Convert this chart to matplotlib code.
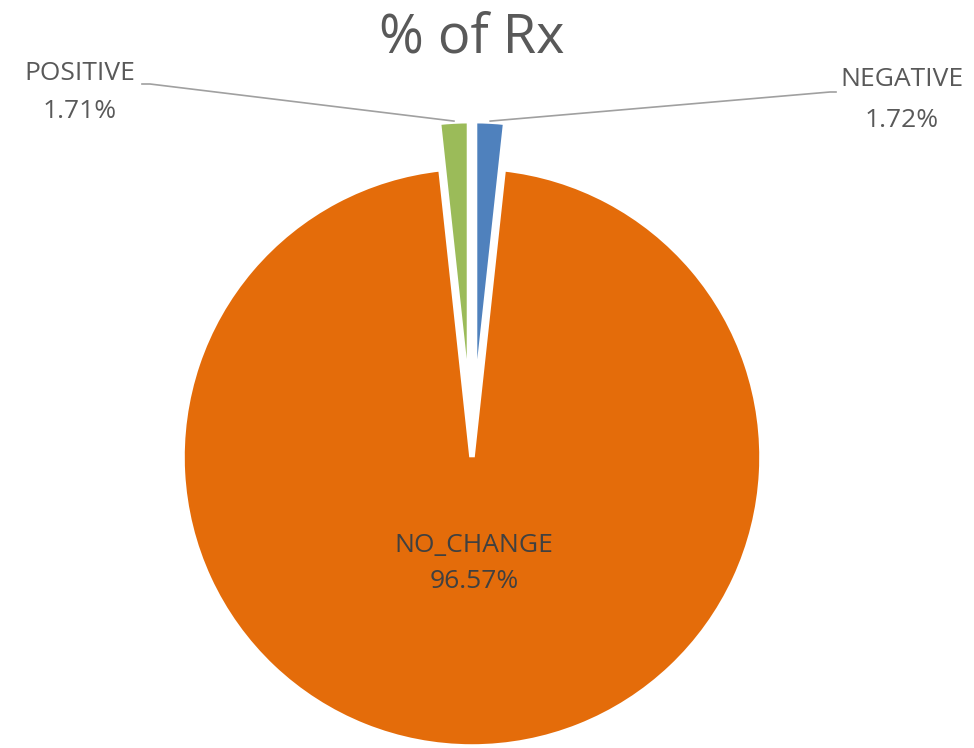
import numpy as np
import matplotlib.pyplot as plt

# data
labels = ["NEGATIVE", "NO_CHANGE", "POSITIVE"]
shares = [1.72, 96.57, 1.71]
colors = ["#4F81BD", "#E46C0A", "#9BBB59"]
explode = [0.16, 0.0, 0.16]

W, H = 974, 748
R = 290            # pie radius in pixels
cx, cy = 472, 457  # pie centre (pixels from top-left)

plt.rcParams['font.family'] = ['Open Sans', 'DejaVu Sans']

fig = plt.figure(figsize=(W / 100, H / 100), dpi=100)
ax = fig.add_axes([0, 0, 1, 1])

wedges, _ = ax.pie(shares, colors=colors, explode=explode, startangle=90,
                   counterclock=False, radius=1,
                   wedgeprops=dict(edgecolor='white', linewidth=4))

# pie() resets the limits, so set them afterwards
ax.set_xlim(-cx / R, (W - cx) / R)
ax.set_ylim(-(H - cy) / R, cy / R)
ax.set_aspect('equal')
ax.axis('off')


def px(x, y):
    # pixel position (from top-left) -> data coords
    return (x - cx) / R, (cy - y) / R


def arc_mid(w):
    a = np.deg2rad((w.theta1 + w.theta2) / 2)
    return w.center[0] + w.r * np.cos(a), w.center[1] + w.r * np.sin(a)


grey = '#595959'
line_kw = dict(color='#a0a0a0', lw=1.2)
fs = 19

# NEGATIVE label (right)
neg = wedges[0]
ex, ey = arc_mid(neg)
x1, y1 = px(830, 92)
x2, y2 = px(836, 92)
ax.plot([ex, x1, x2], [ey, y1, y2], **line_kw)
ax.text(*px(902, 80), f"{labels[0]}", ha='center', va='center', fontsize=fs, color=grey)
ax.text(*px(902, 121), f"{shares[0]:.2f}%", ha='center', va='center', fontsize=fs, color=grey)

# POSITIVE label (left)
pos = wedges[2]
ex, ey = arc_mid(pos)
x1, y1 = px(150, 84)
x2, y2 = px(142, 84)
ax.plot([ex, x1, x2], [ey, y1, y2], **line_kw)
ax.text(*px(80, 74), f"{labels[2]}", ha='center', va='center', fontsize=fs, color=grey)
ax.text(*px(80, 111), f"{shares[2]:.2f}%", ha='center', va='center', fontsize=fs, color=grey)

# NO_CHANGE label (inside)
ax.text(*px(474, 545), labels[1], ha='center', va='center', fontsize=fs, color='#404040')
ax.text(*px(474, 582), f"{shares[1]:.2f}%", ha='center', va='center', fontsize=fs, color='#404040')

fig.text(472 / W, 1 - 38 / H, "% of Rx", ha='center', va='center', fontsize=39, color=grey)

fig.savefig("out.png", dpi=100, facecolor='white')
